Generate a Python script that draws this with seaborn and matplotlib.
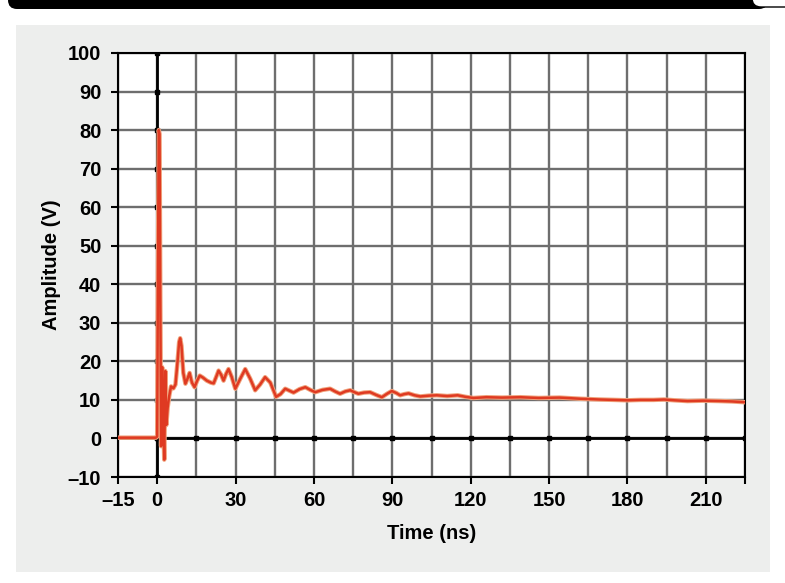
import matplotlib
matplotlib.use('Agg')
import matplotlib.pyplot as plt
import seaborn as sns
from matplotlib.patches import Rectangle, FancyBboxPatch

# Данные: время (нс) и амплитуда (В)
time_ns = [-15, -5, -0.5, 0.0, 0.3, 0.6, 0.9, 1.2, 1.5, 1.9, 2.3, 2.7, 3.1, 3.5,
           4.0, 4.6, 5.3, 6.2, 7.0, 7.8, 8.4, 8.8, 9.3, 10.0, 10.8, 11.6, 12.4,
           13.3, 14.3, 15.3, 16.3, 17.5, 19.0, 20.5, 21.6, 22.6, 23.5, 24.5,
           25.4, 26.4, 27.3, 28.5, 29.9, 31.8, 33.7, 35.6, 37.5, 39.4, 41.3,
           43.3, 45.5, 47.2, 49.0, 50.6, 52.2, 54.5, 56.7, 58.6, 60.5, 63.3,
           66.2, 68.1, 70.0, 72.0, 73.9, 75.5, 77.0, 79.2, 81.5, 83.8, 86.0,
           88.0, 89.8, 91.5, 93.0, 94.6, 96.2, 98.5, 100.7, 104.0, 107.0,
           111.0, 115.0, 118.0, 121.0, 126.0, 132.0, 139.0, 146.0, 154.0,
           162.0, 169.6, 175.0, 180.0, 185.0, 190.0, 194.0, 198.0, 203.0,
           209.0, 215.5, 220.0, 225.0]
amplitude_v = [0.2, 0.2, 0.2, 0.5, 45, 80, 79, 35, -2, 18.5, 6, -5.5, 17.5, 3.5,
               8, 11, 13.5, 13, 14, 20, 25, 26, 24, 17, 14.2, 15.5, 17,
               14.5, 13.3, 15, 16.3, 15.8, 15, 14.5, 14.3, 16, 17.6, 16.5,
               15, 16.8, 18, 16, 12.9, 15.5, 18, 15.5, 12.5, 14, 15.9,
               14.5, 10.8, 11.5, 12.9, 12.4, 11.9, 12.8, 13.3, 12.6, 12.0, 12.6,
               12.9, 12.2, 11.6, 12.2, 12.5, 12.0, 11.6, 11.9, 12.0, 11.3, 10.7,
               11.6, 12.3, 11.8, 11.2, 11.5, 11.7, 11.2, 10.9, 11.1, 11.2,
               11.0, 11.2, 10.8, 10.5, 10.7, 10.6, 10.7, 10.5, 10.6,
               10.3, 10.1, 10.0, 9.9, 10.0, 10.0, 10.1, 9.9, 9.7,
               9.8, 9.7, 9.6, 9.4]

x_ticks = [-15, 0, 30, 60, 90, 120, 150, 180, 210, 225]
x_tick_labels = ['–15', '0', '30', '60', '90', '120', '150', '180', '210', '']
x_grid = list(range(-15, 226, 15))
y_ticks = list(range(-10, 101, 10))
y_tick_labels = ['–10'] + [str(v) for v in y_ticks[1:]]

sns.set_theme(style='white')
plt.rcParams['font.family'] = ['Liberation Sans', 'DejaVu Sans']
plt.rcParams['font.weight'] = 'bold'

W, H = 785, 583
fig = plt.figure(figsize=(W / 100, H / 100), dpi=100, facecolor='white')

# серая подложка и чёрная полоса сверху (под осями)
fig.patches.append(Rectangle((16 / W, 1 - 572 / H), 754 / W, 547 / H,
                             transform=fig.transFigure, facecolor='#edeeed',
                             edgecolor='none', zorder=-3))
fig.patches.append(FancyBboxPatch((8, H - 9), 760, 40,
                                  boxstyle='round,pad=0,rounding_size=9',
                                  facecolor='black', edgecolor='none',
                                  transform=None, zorder=-2))
fig.patches.append(FancyBboxPatch((752, H - 7), 80, 40,
                                  boxstyle='round,pad=0,rounding_size=9',
                                  facecolor='white', edgecolor='black', lw=1,
                                  transform=None, zorder=-1))

ax = fig.add_axes([118 / W, 1 - 477 / H, 627 / W, 424 / H])
ax.set_facecolor('white')

ax.set_xlim(-15, 225)
ax.set_ylim(-10, 100)
ax.set_xticks(x_ticks)
ax.set_xticklabels(x_tick_labels)
ax.set_yticks(y_ticks)
ax.set_yticklabels(y_tick_labels)
ax.set_xticks(x_grid, minor=True)
ax.grid(False)
ax.grid(which='both', color='#6e6e6e', lw=1.7, zorder=1)
ax.set_axisbelow(True)
ax.tick_params(which='major', direction='out', length=5, width=1.5,
               color='black', labelsize=14.5, bottom=True, left=True)
ax.tick_params(axis='x', which='major', pad=5)
ax.tick_params(axis='y', which='major', pad=7)
ax.tick_params(which='minor', length=0)
for s in ax.spines.values():
    s.set_color('black')
    s.set_linewidth(1.5)

# оси через ноль
ax.axhline(0, color='black', lw=2, zorder=2)
ax.axvline(0, color='black', lw=2, zorder=2)
ax.plot(x_grid[1:], [0] * len(x_grid[1:]), ls='none', marker='s', ms=2.5,
        color='black', zorder=3)
ax.plot([0] * len(y_ticks), y_ticks, ls='none', marker='s', ms=2.5,
        color='black', zorder=3)

# сигнал
sns.lineplot(x=time_ns, y=amplitude_v, ax=ax, color='#f0a27c', lw=3.2,
             zorder=4)
sns.lineplot(x=time_ns, y=amplitude_v, ax=ax, color='#df3a22', lw=1.8,
             zorder=5)

ax.set_xlabel('Time (ns)', fontsize=14.5, fontweight='bold', labelpad=10,
              color='black')
ax.set_ylabel('Amplitude (V)', fontsize=14.5, fontweight='bold', labelpad=5,
              color='black')
for lab in ax.get_xticklabels() + ax.get_yticklabels():
    lab.set_color('black')

fig.savefig('out.png', dpi=100, facecolor='white')
